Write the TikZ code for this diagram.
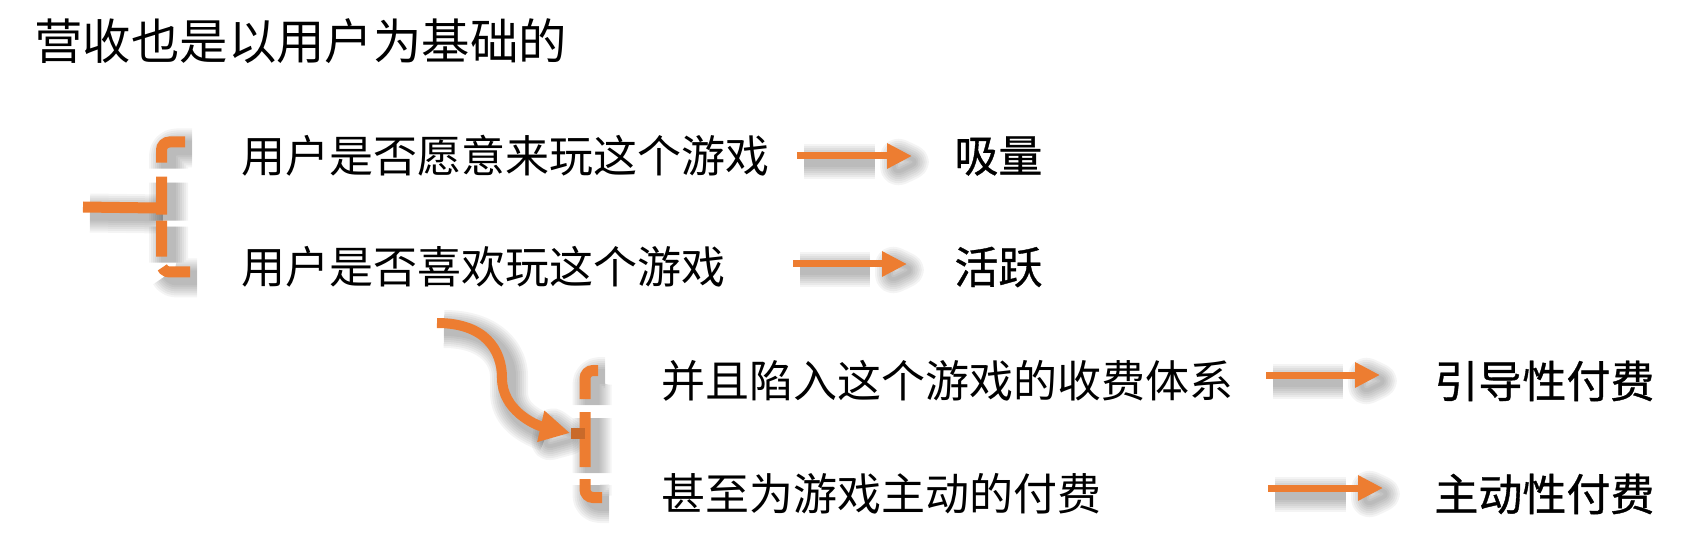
\documentclass[tikz,border=0pt]{standalone}
\usepackage{fontspec}
\newfontfamily\cjk{Noto Sans CJK SC}
\newfontfamily\cjkbold[FakeBold=0.8]{Noto Sans CJK SC}
\usetikzlibrary{arrows.meta}
\definecolor{accent}{HTML}{ED7D31}
\tikzset{
	shade/.style={opacity=0.045,rounded corners=4pt,line join=round,transform canvas={shift={(3.5pt,-3pt)}}},
	dashA/.style={dash pattern=on 20.25pt off 7pt on 19pt off 3pt on 18pt off 5.5pt on 100pt},
	dashB/.style={dash pattern=on 19pt off 6.5pt on 27.5pt off 6pt on 100pt},
	brace/.style={draw=accent,line width=5.5pt,rounded corners=4pt},
	flow/.style={draw=accent,line width=3.5pt,-{Triangle[length=12.5pt,width=12pt]}},
	lead/.style={draw=accent,line width=5pt,-{Triangle[length=15pt,width=15pt]}},
	title/.style={anchor=west,inner sep=0pt,font=\cjk\fontsize{24.2pt}{28pt}\selectfont},
	item/.style={anchor=west,inner sep=0pt,font=\cjk\fontsize{22pt}{26pt}\selectfont},
	result/.style={anchor=west,inner sep=0pt,font=\cjkbold\fontsize{22pt}{26pt}\selectfont}
}
\begin{document}
\begin{tikzpicture}[x=0.5pt,y=-0.5pt]
	\useasboundingbox (0,0) rectangle (1681,545);
	\node[title] (head) at (34,41.5) {营收也是以用户为基础的};
	\node[item] (want) at (241,156) {用户是否愿意来玩这个游戏};
	\node[item] (like) at (241,267) {用户是否喜欢玩这个游戏};
	\node[item] (sink) at (661,381) {并且陷入这个游戏的收费体系};
	\node[item] (pay) at (661,494) {甚至为游戏主动的付费};
	\node[result] (acq) at (954,156) {吸量};
	\node[result] (act) at (954,267) {活跃};
	\node[result] (guide) at (1434,381) {引导性付费};
	\node[result] (own) at (1434,494) {主动性付费};
	\coordinate (A1) at (797,156);
	\coordinate (A2) at (912,156);
	\coordinate (B1) at (793,264);
	\coordinate (B2) at (907,264);
	\coordinate (C1) at (1266,375);
	\coordinate (C2) at (1380,375);
	\coordinate (D1) at (1268,488);
	\coordinate (D2) at (1383,488);
	\coordinate (P1) at (185,142);
	\coordinate (P2) at (161.5,142);
	\coordinate (P3) at (161.5,272);
	\coordinate (P4) at (190,272);
	\coordinate (Q1) at (598,370.5);
	\coordinate (Q2) at (585,370.5);
	\coordinate (Q3) at (585,497.5);
	\coordinate (Q4) at (602,497.5);
	\coordinate (S1) at (83,207);
	\coordinate (S2) at (156,208);
	\coordinate (T1) at (571,433);
	\coordinate (T2) at (585,433);
	\coordinate (L1) at (437,323);
	\coordinate (L2) at (570,433);
	% soft shadows
	\foreach \w in {2,4,6,8,10,12,14}{
		\begin{scope}[shade]
			\draw[dashA,line width=5.5pt+\w pt] (P1) -- (P2) -- (P3) -- (P4);
			\draw[dashB,line width=5.5pt+\w pt] (Q1) -- (Q2) -- (Q3) -- (Q4);
			\draw[line width=5.5pt+\w pt] (S1) -- (S2);
			\draw[line width=5pt+\w pt] (L1) .. controls (485,323) and (502,350) .. (502,378) .. controls (502,405) and (515,418) .. (540,427);
			\draw[line width=\w pt] (L2) -- (543,413) -- (537,442) -- cycle;
			\foreach \a/\b in {A1/A2,B1/B2,C1/C2,D1/D2}{
				\draw[line width=3.5pt+\w pt] (\a) -- ([xshift=-22]\b);
				\draw[line width=\w pt] (\b) -- ([shift={(-25,-12)}]\b) -- ([shift={(-25,12)}]\b) -- cycle;
			}
		\end{scope}
	}
	% first bracket
	\draw[brace,dashA] (P1) -- (P2) -- (P3) -- (P4);
	\draw[brace] (S1) -- (S2);
	% second bracket
	\draw[brace,dashB] (Q1) -- (Q2) -- (Q3) -- (Q4);
	\draw[brace,draw=accent!85!black] (T1) -- (T2);
	\draw[lead] (L1) .. controls (485,323) and (502,350) .. (502,378) .. controls (502,410) and (535,425) .. (L2);
	\draw[flow] (A1) -- (A2);
	\draw[flow] (B1) -- (B2);
	\draw[flow] (C1) -- (C2);
	\draw[flow] (D1) -- (D2);
\end{tikzpicture}
\end{document}
